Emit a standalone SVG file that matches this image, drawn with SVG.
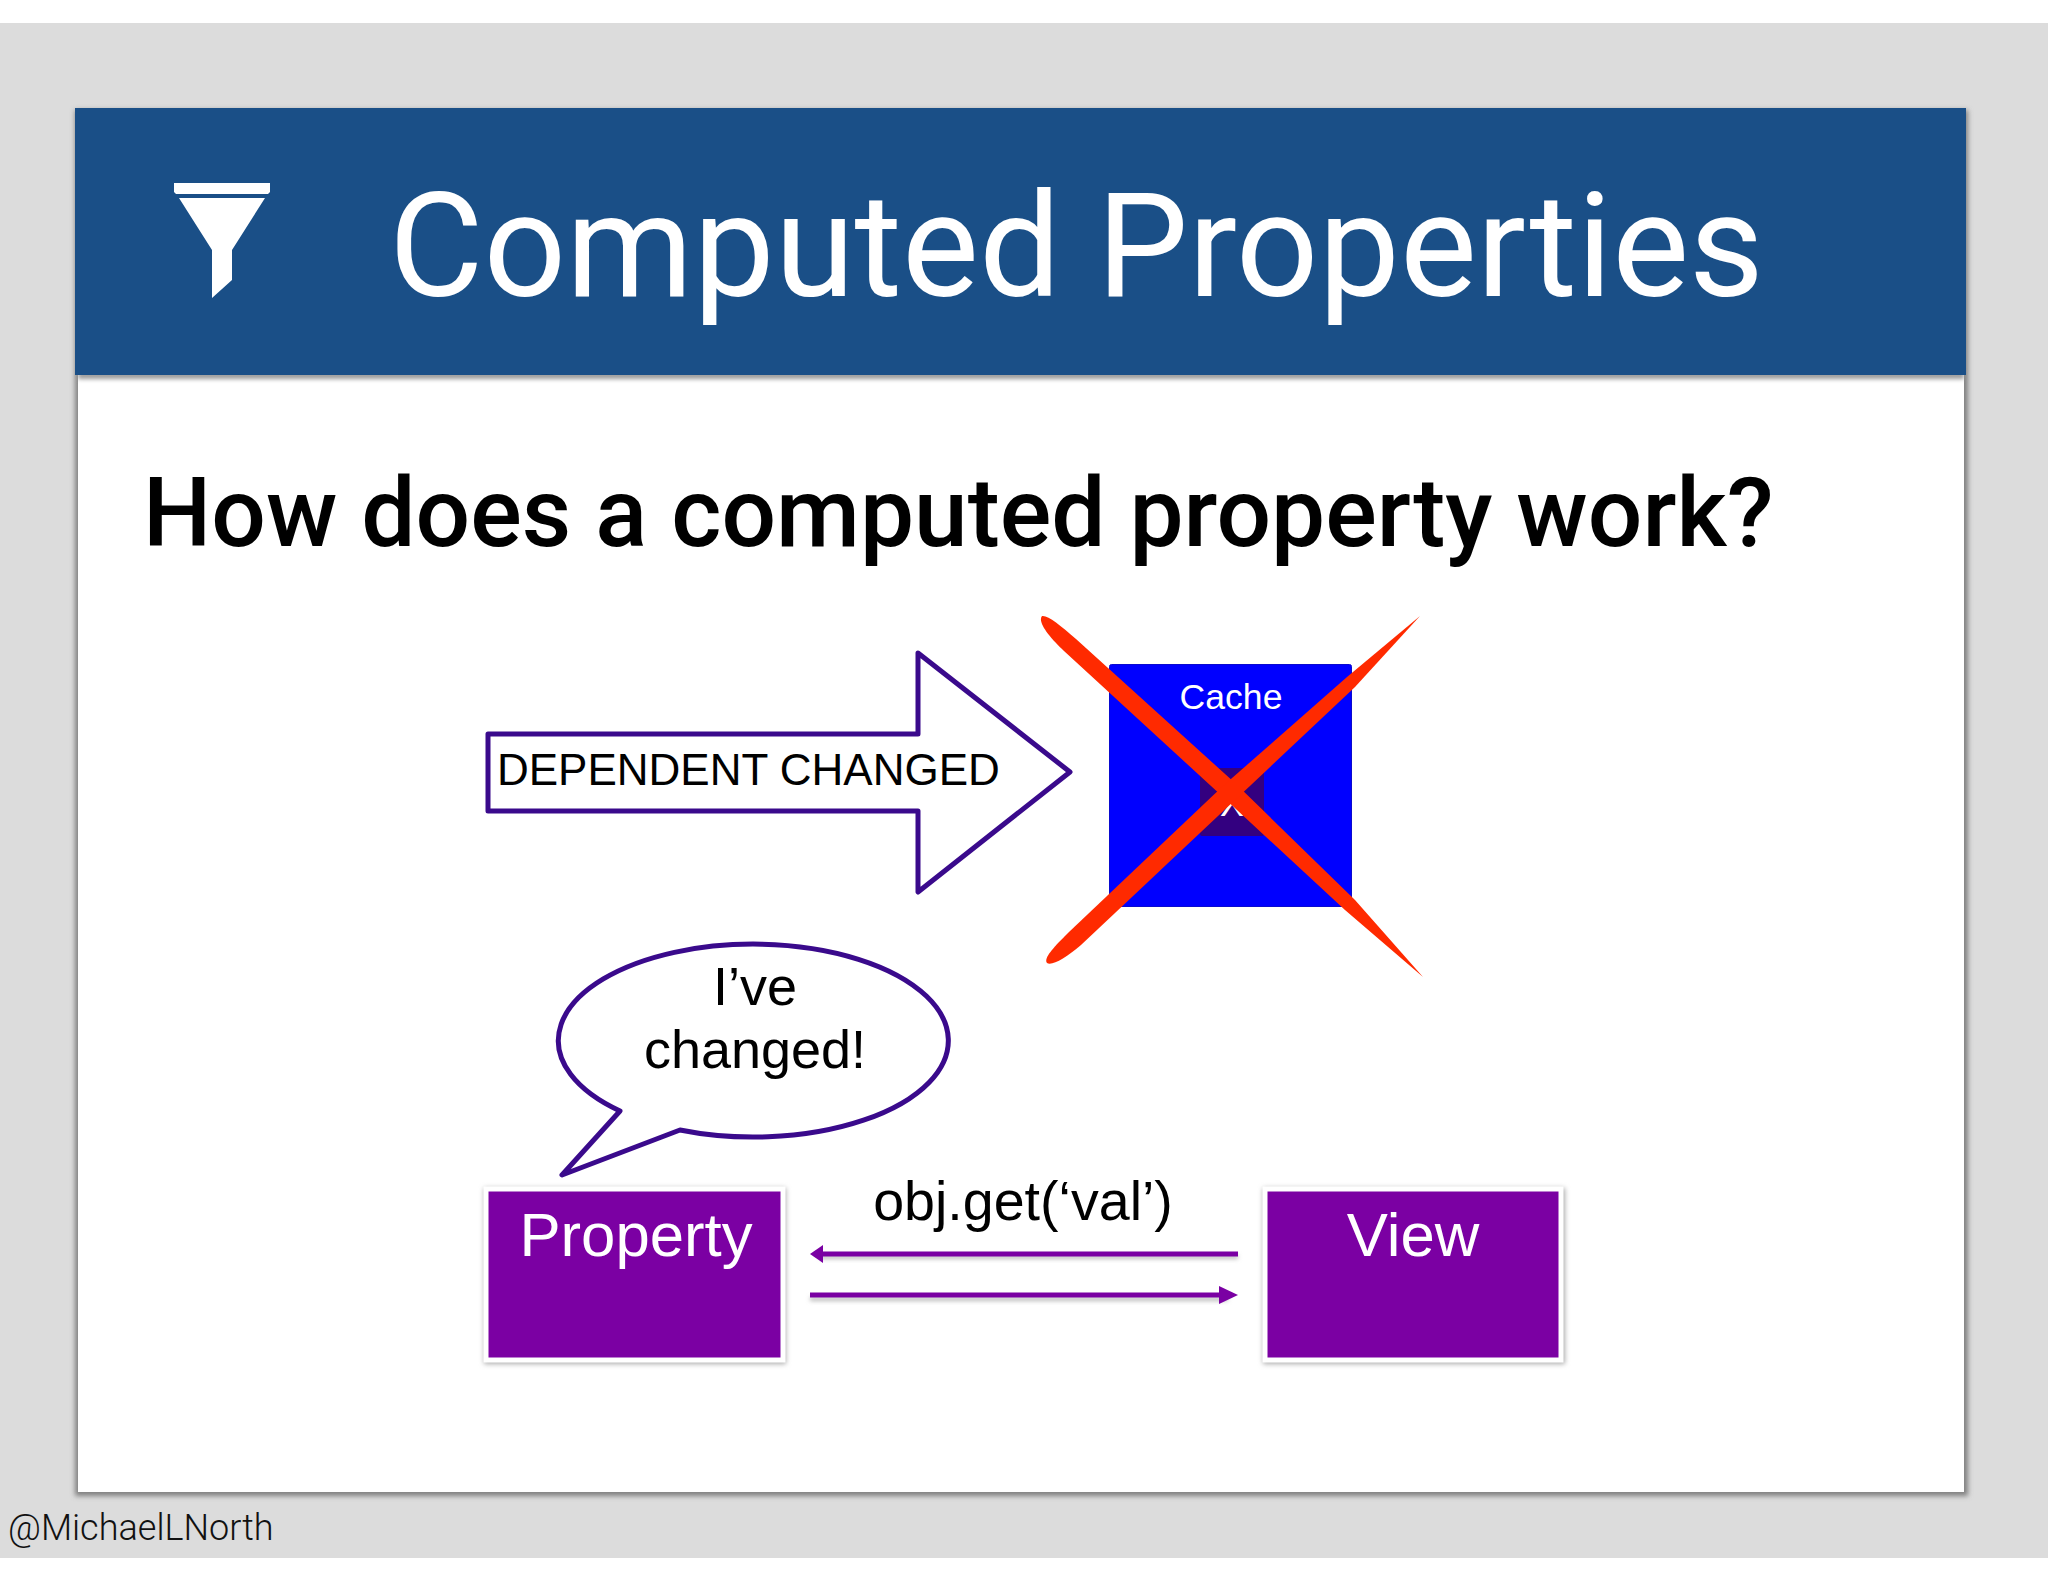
<svg xmlns="http://www.w3.org/2000/svg" width="2048" height="1582" viewBox="0 0 2048 1582">
<defs>
<style>
.sans{font-family:"Liberation Sans",Arial,sans-serif}
.rob{font-family:Roboto,"Liberation Sans",sans-serif}
.out{fill:#fff;stroke:#3a0a8c;stroke-width:5;stroke-linejoin:round}
.lnk{stroke:#7a00a3;stroke-width:5;fill:none}
.head{fill:#7a00a3}
.box{fill:#7b00a3;stroke:#fff;stroke-width:5}
.red{fill:#ff2a00}
</style>
<filter id="sh" x="-5%" y="-5%" width="110%" height="110%"><feGaussianBlur stdDeviation="2.5"/></filter>
<filter id="sh2" x="-5%" y="-50%" width="110%" height="300%"><feGaussianBlur stdDeviation="2"/></filter>
</defs>
<rect width="2048" height="1582" fill="#fff"/>
<rect id="backdrop" x="0" y="23" width="2048" height="1535" fill="#dcdcdc"/>
<g id="slide">
<rect x="75" y="110" width="1893" height="1386" fill="#808080" filter="url(#sh)"/>
<rect x="78" y="375" width="1886" height="1117" fill="#fff"/>
<rect x="78" y="372" width="1886" height="7" fill="#999" filter="url(#sh2)"/>
<rect x="75" y="108" width="1891" height="267" fill="#1a4f87"/>
</g>
<g id="funnel" fill="#fff">
<path d="M174 183H270V192L268 194H176L174 192Z"/>
<path d="M179 198H265L232 250V280L212 298V250Z"/>
</g>
<text id="title" class="rob" x="389" y="296" font-size="145" fill="#fff">Computed Properties</text>
<text id="subtitle" class="rob" x="143" y="546" font-size="96.3" font-weight="500" fill="#000">How does a computed property work?</text>
<g id="dependent-arrow">
<path class="out" d="M488 734H918V653L1070 772L918 892V811H488Z"/>
<text class="sans" x="497" y="785" font-size="44" fill="#000">DEPENDENT CHANGED</text>
</g>
<g id="cache">
<rect x="1109.5" y="664.5" width="242" height="242" rx="2" fill="#0000ff" stroke="#0a0ad0" stroke-width="1"/>
<text class="sans" x="1231" y="709" font-size="35.6" fill="#fff" text-anchor="middle">Cache</text>
<rect x="1200" y="768" width="64" height="68" rx="2" fill="#330080"/>
<text class="sans" x="1232" y="816" font-size="36" fill="#fff" text-anchor="middle">X</text>
</g>
<g id="cross">
<path class="red" d="M1042 616C1048 615 1060 625 1076 639L1235 783L1355 900L1423 977L1345 910L1223 797L1064 651C1050 638 1037 622 1042 616Z"/>
<path class="red" d="M1047 963C1043 958 1055 946 1069 932L1223 786L1347 677L1420 616L1355 687L1235 800L1081 945C1066 958 1052 966 1047 963Z"/>
</g>
<g id="bubble">
<path class="out" d="M680 1130A195 96.5 0 1 0 620 1111L562 1175Z"/>
<text class="sans" x="755" y="1005" font-size="54" fill="#000" text-anchor="middle">I’ve</text>
<text class="sans" x="755" y="1068" font-size="54" fill="#000" text-anchor="middle">changed!</text>
</g>
<g id="property">
<rect x="484" y="1188" width="302" height="176" fill="#aaa" filter="url(#sh)"/>
<rect class="box" x="486" y="1189" width="297" height="171"/>
<text class="sans" x="636" y="1256" font-size="61.7" fill="#fff" text-anchor="middle">Property</text>
</g>
<g id="view">
<rect x="1263" y="1188" width="302" height="176" fill="#aaa" filter="url(#sh)"/>
<rect class="box" x="1265" y="1189" width="296" height="171"/>
<text class="sans" x="1413" y="1256" font-size="61.7" fill="#fff" text-anchor="middle">View</text>
</g>
<g id="connectors">
<path d="M820 1257H1238M810 1299H1228" stroke="#bbb" stroke-width="4" fill="none" filter="url(#sh2)"/>
<path class="lnk" d="M820 1254H1238"/>
<path class="head" d="M810 1254L823 1245V1263Z"/>
<path class="lnk" d="M810 1295H1228"/>
<path class="head" d="M1238 1295L1219 1286V1304Z"/>
</g>
<text id="obj-label" class="sans" x="1023" y="1220" font-size="55.6" fill="#000" text-anchor="middle">obj.get(‘val’)</text>
<text id="credit" class="rob" x="8" y="1540" font-size="36" font-weight="300" fill="#111">@MichaelLNorth</text>
</svg>
